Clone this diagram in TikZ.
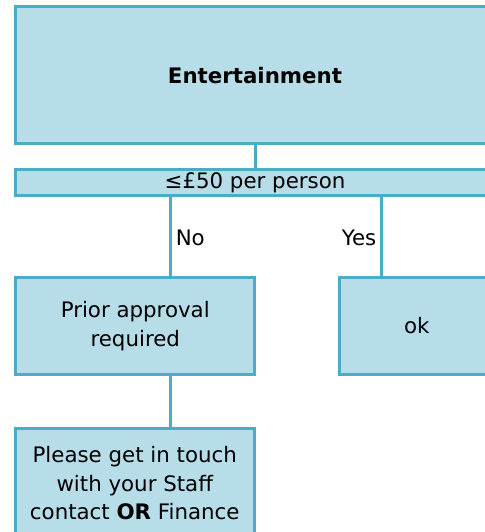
\documentclass[tikz,border=0pt]{standalone}
\usepackage{fontspec}
\setmainfont{DejaVu Sans}
\definecolor{boxfill}{HTML}{B7DDE8}
\definecolor{boxline}{HTML}{4BACC6}
\tikzset{
  box/.style={draw=boxline, fill=boxfill, line width=2.25pt, inner sep=0pt,
    align=center, font=\fontsize{16pt}{21.3pt}\selectfont},
  link/.style={draw=boxline, line width=2.25pt},
  lbl/.style={font=\fontsize{16pt}{21.3pt}\selectfont, inner sep=0pt}
}
\begin{document}
\begin{tikzpicture}[x=0.75pt,y=-0.75pt]
\useasboundingbox (0,0) rectangle (485,532);
\clip (0,0) rectangle (485,532);
\node[box, minimum width=359.25pt, minimum height=102.4pt] (ent) at (255,75.25) {\bfseries Entertainment};
\node[box, minimum width=359.25pt, minimum height=19.5pt] (cond) at (255,182.5) {≤£50 per person};
\node[box, minimum width=179.6pt, minimum height=72.75pt] (prior) at (135.25,326) {Prior approval\\required};
\node[box, minimum width=116.6pt, minimum height=72.75pt] (ok) at (416.75,326) {ok};
\node[box, minimum width=178.9pt, minimum height=82.1pt] (please) at (134.75,483.25) {Please get in touch\\with your Staff\\contact \textbf{OR} Finance};
\coordinate (nox) at (170.5,0);
\coordinate (yesx) at (381.5,0);
\draw[link] (ent.south) -- (cond.north);
\draw[link] (cond.south -| nox) -- (prior.north -| nox);
\draw[link] (cond.south -| yesx) -- (ok.north -| yesx);
\draw[link] (prior.south -| nox) -- (please.north -| nox);
\node[lbl, anchor=west] (no) at (175.5,238) {No};
\node[lbl, anchor=east] (yes) at (376.5,238) {Yes};
\end{tikzpicture}
\end{document}
